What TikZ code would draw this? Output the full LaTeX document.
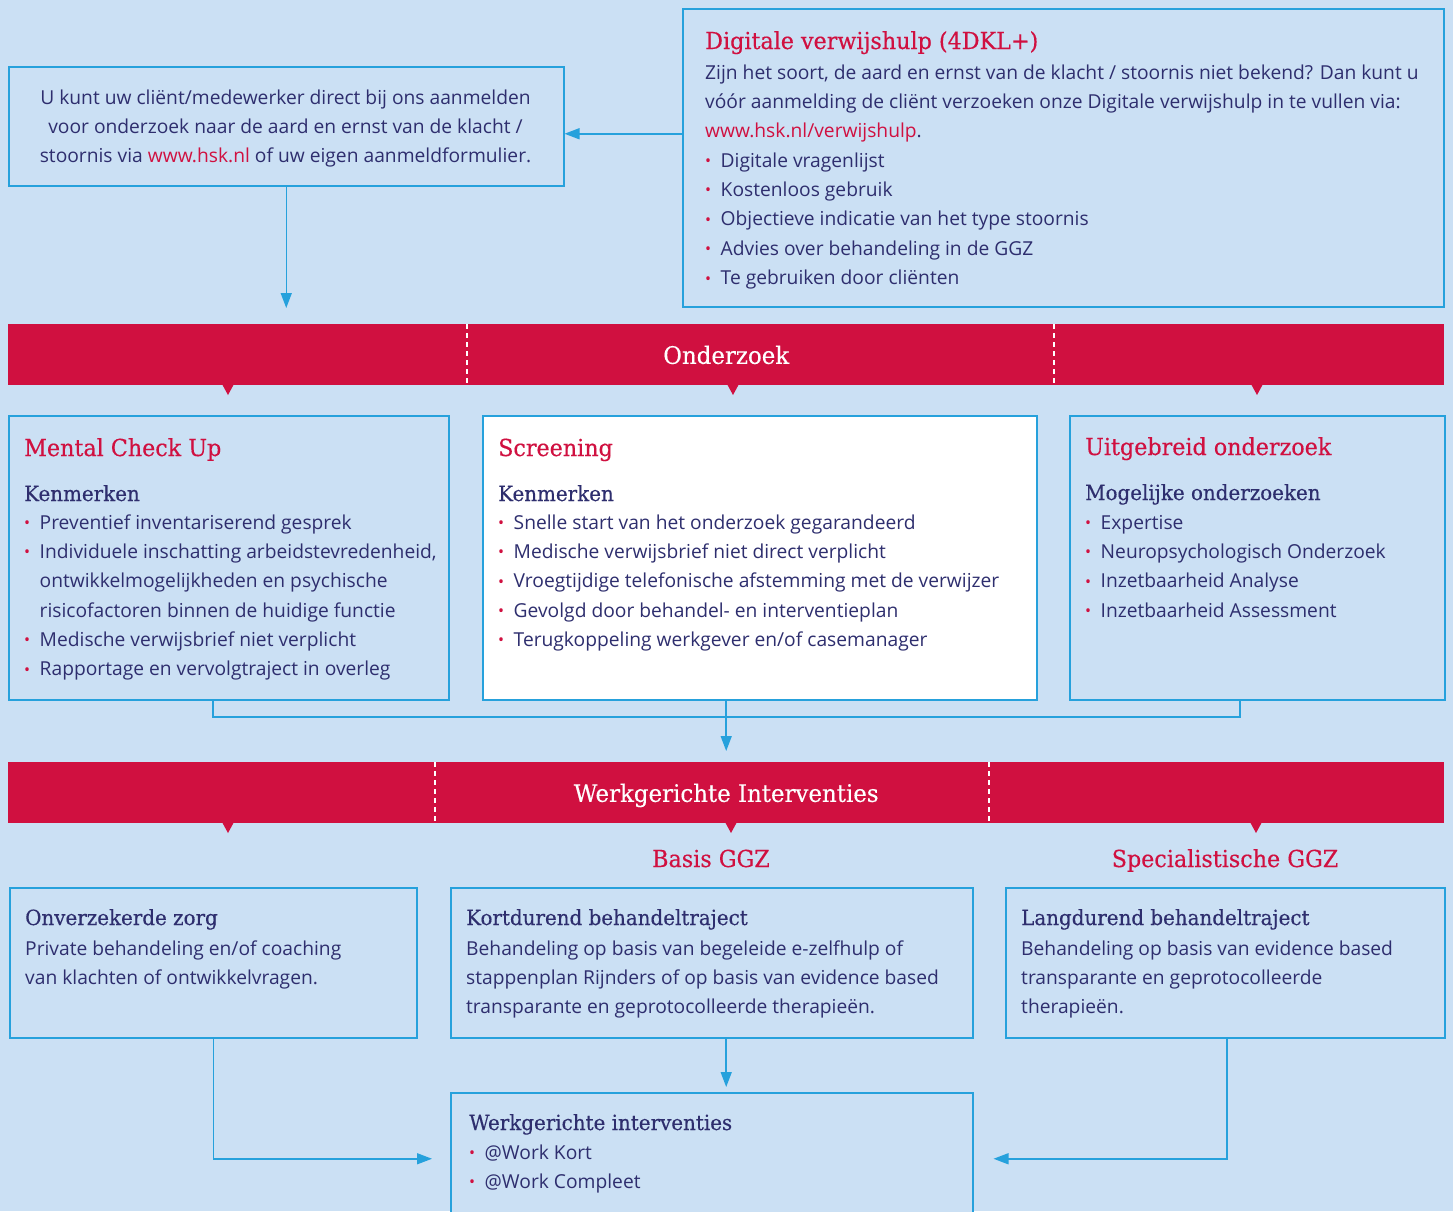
\documentclass[tikz,border=0pt]{standalone}
\usepackage{fontspec}
\setmainfont{Open Sans}
\newfontfamily\slab[FakeStretch=0.95, FakeBold=0.35]{DejaVu Serif}
\usepackage{xcolor}
\usepackage{tikz}
\usetikzlibrary{arrows.meta, positioning, calc}
\definecolor{hskrood}{RGB}{208,16,64}
\definecolor{hsknavy}{RGB}{46,46,110}
\definecolor{hskblauw}{RGB}{38,161,220}
\definecolor{hskachter}{RGB}{203,224,244}

\newcommand{\punt}{\makebox[15.5bp][l]{\textcolor{hskrood}{\fontsize{16}{16}\selectfont\raisebox{0.6bp}{\textbullet}}}}
\newcommand{\inspring}{\hspace*{15.5bp}}
\newcommand{\blok}[2]{\parbox[t]{#1}{\raggedright #2}}

\tikzset{
    kader/.style={draw=hskblauw, line width=1.5bp, fill=hskachter, anchor=north west, inner sep=0pt},
    balk/.style={fill=hskrood, anchor=north west, inner sep=0pt, text=white, text depth=0pt,
        font=\slab\fontsize{24.2}{28}\selectfont},
    kop/.style={anchor=base west, inner sep=0pt, text=hskrood, font=\slab\fontsize{23.5}{28}\selectfont},
    subkop/.style={anchor=base west, inner sep=0pt, text=hsknavy, font=\slab\fontsize{21}{26}\selectfont},
    tekst/.style={anchor=base west, inner sep=0pt, text=hsknavy, font=\fontsize{19.3}{29.5}\selectfont},
    lijn/.style={draw=hskblauw, line width=1.5bp},
    pijl/.style={lijn, -{Triangle[length=15bp, width=11bp]}},
    scheiding/.style={white, line width=1.2bp, dash pattern=on 5bp off 4bp}
}

\begin{document}
\begin{tikzpicture}[x=1bp, y=-1bp]
    \useasboundingbox (0,0) rectangle (1453,1211);
    \fill[hskachter] (0,0) rectangle (1453,1211);

    % Aanmelden
    \node[kader, minimum width=555bp, minimum height=119bp] (aanmeld) at (8,66) {};
    \node[tekst, anchor=base] (aanmeldtekst) at (285.5,104) {\parbox[t]{545bp}{\centering
        U kunt uw cliënt/medewerker direct bij ons aanmelden\\
        voor onderzoek naar de aard en ernst van de klacht /\\
        stoornis via \textcolor{hskrood}{www.hsk.nl} of uw eigen aanmeldformulier.}};

    % Digitale verwijshulp
    \node[kader, minimum width=761bp, minimum height=298bp] (verwijs) at (682,8) {};
    \node[kop] (verwijskop) at (705,49) {Digitale verwijshulp (4DKL+)};
    \node[tekst] (verwijstekst) at (705,79) {\blok{735bp}{%
        Zijn het soort, de aard en ernst van de klacht / stoornis niet bekend? Dan kunt u\\
        vóór aanmelding de cliënt verzoeken onze Digitale verwijshulp in te vullen via:\\
        \textcolor{hskrood}{www.hsk.nl/verwijshulp}.\\
        \punt Digitale vragenlijst\\
        \punt Kostenloos gebruik\\
        \punt Objectieve indicatie van het type stoornis\\
        \punt Advies over behandeling in de GGZ\\
        \punt Te gebruiken door cliënten}};

    \path ([yshift=-7.5bp]aanmeld.east) coordinate (aanmeldin);
    \draw[pijl] (verwijs.west |- aanmeldin) -- (aanmeldin);

    % Onderzoek
    \node[balk, minimum width=1436bp, minimum height=61bp] (onderzoek) at (8,324) {Onderzoek};
    \draw[scheiding] (467,324) -- (467,385);
    \draw[scheiding] (1054,324) -- (1054,385);
    \foreach \x in {228,733,1257}
        \fill[hskrood] (\x-6,384) -- (\x+6,384) -- (\x,395) -- cycle;
    \draw[pijl, shorten >=16bp] (aanmeld.south) -- (aanmeld.south |- onderzoek.north);

    % Mental Check Up
    \node[kader, minimum width=440bp, minimum height=284bp] (mcu) at (8,415) {};
    \node[kop] (mcukop) at (24,456) {Mental Check Up};
    \node[subkop] (mcusub) at (24,501) {Kenmerken};
    \node[tekst] (mcutekst) at (24,529) {\blok{425bp}{%
        \punt Preventief inventariserend gesprek\\
        \punt Individuele inschatting arbeidstevredenheid,\\
        \inspring ontwikkelmogelijkheden en psychische\\
        \inspring risicofactoren binnen de huidige functie\\
        \punt Medische verwijsbrief niet verplicht\\
        \punt Rapportage en vervolgtraject in overleg}};

    % Screening
    \node[kader, fill=white, minimum width=554bp, minimum height=284bp] (screening) at (482,415) {};
    \node[kop] (screeningkop) at (498,456) {Screening};
    \node[subkop] (screeningsub) at (498,501) {Kenmerken};
    \node[tekst] (screeningtekst) at (498,529) {\blok{535bp}{%
        \punt Snelle start van het onderzoek gegarandeerd\\
        \punt Medische verwijsbrief niet direct verplicht\\
        \punt Vroegtijdige telefonische afstemming met de verwijzer\\
        \punt Gevolgd door behandel- en interventieplan\\
        \punt Terugkoppeling werkgever en/of casemanager}};

    % Uitgebreid onderzoek
    \node[kader, minimum width=375bp, minimum height=284bp] (uitgebreid) at (1069,415) {};
    \node[kop] (uitgebreidkop) at (1085,455) {Uitgebreid onderzoek};
    \node[subkop] (uitgebreidsub) at (1085,500) {Mogelijke onderzoeken};
    \node[tekst] (uitgebreidtekst) at (1085,529) {\blok{355bp}{%
        \punt Expertise\\
        \punt Neuropsychologisch Onderzoek\\
        \punt Inzetbaarheid Analyse\\
        \punt Inzetbaarheid Assessment}};

    % Werkgerichte Interventies
    \node[balk, minimum width=1436bp, minimum height=61bp] (werkbalk) at (8,762) {Werkgerichte Interventies};
    \draw[scheiding] (435,762) -- (435,823);
    \draw[scheiding] (989,762) -- (989,823);
    \foreach \x in {228,731,1256}
        \fill[hskrood] (\x-6,822) -- (\x+6,822) -- (\x,833) -- cycle;

    \coordinate (samenL) at (213,717);
    \coordinate (samenR) at (1240,717);
    \draw[lijn] (mcu.south -| samenL) -- (samenL) -- (samenR) -- (uitgebreid.south -| samenR);
    \draw[pijl, shorten >=11bp] (screening.south -| werkbalk.north) -- (werkbalk.north);

    \node[kop, anchor=base] (basis) at (711,867) {Basis GGZ};
    \node[kop, anchor=base] (specialistisch) at (1225,867) {Specialistische GGZ};

    % Onverzekerde zorg
    \node[kader, minimum width=407bp, minimum height=150bp] (onverzekerd) at (9,887) {};
    \node[subkop] (onverzekerdkop) at (25,925) {Onverzekerde zorg};
    \node[tekst] (onverzekerdtekst) at (25,955) {\blok{390bp}{%
        Private behandeling en/of coaching\\
        van klachten of ontwikkelvragen.}};

    % Kortdurend behandeltraject
    \node[kader, minimum width=522bp, minimum height=150bp] (kortdurend) at (450,887) {};
    \node[subkop] (kortdurendkop) at (466,925) {Kortdurend behandeltraject};
    \node[tekst] (kortdurendtekst) at (466,955) {\blok{505bp}{%
        Behandeling op basis van begeleide e-zelfhulp of\\
        stappenplan Rijnders of op basis van evidence based\\
        transparante en geprotocolleerde therapieën.}};

    % Langdurend behandeltraject
    \node[kader, minimum width=439bp, minimum height=150bp] (langdurend) at (1005,887) {};
    \node[subkop] (langdurendkop) at (1021,925) {Langdurend behandeltraject};
    \node[tekst] (langdurendtekst) at (1021,955) {\blok{420bp}{%
        Behandeling op basis van evidence based\\
        transparante en geprotocolleerde\\
        therapieën.}};

    % Werkgerichte interventies
    \node[kader, minimum width=522bp, minimum height=132bp] (werkint) at (450,1092) {};
    \node[subkop] (werkintkop) at (469,1130) {Werkgerichte interventies};
    \node[tekst] (werkinttekst) at (469,1159) {\blok{500bp}{%
        \punt @Work Kort\\
        \punt @Work Compleet}};

    \draw[pijl, shorten >=5bp] (kortdurend.south -| werkbalk.north) -- (werkint.north -| werkbalk.north);
    \draw[pijl, shorten >=18bp] (onverzekerd.south) |- (werkint.west);
    \draw[pijl, shorten >=20bp] ([xshift=1.5bp]langdurend.south) |- (werkint.east);
\end{tikzpicture}
\end{document}
